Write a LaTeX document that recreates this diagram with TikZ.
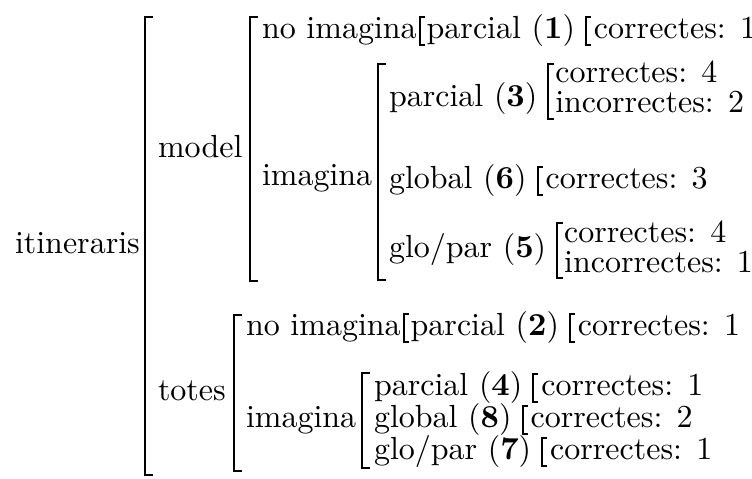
\documentclass[tikz,border=0pt]{standalone}
\usetikzlibrary{calc}
\tikzset{
  txt/.style={anchor=base west,inner sep=0pt,outer sep=0pt,font=\fontsize{10}{12}\selectfont},
  bigbr/.style={line width=0.9pt,line join=miter},
  smbr/.style={line width=0.6pt,line join=miter},
}
\newcommand\onebr[3]{%
  \coordinate (#2t) at ($(#1.base east)+(#3,-21)$);
  \coordinate (#2b) at ($(#1.base east)+(#3,7)$);
  \draw[smbr] (#2t) ++(5,0) -- (#2t) -- (#2b) -- ++(5,0);}
\newcommand\twobr[4]{%
  \coordinate (#2t) at ($(#1.base east)+(11,#3)$);
  \coordinate (#2b) at ($(#1.base east)+(11,#4)$);
  \draw[smbr] (#2t) ++(6,0) -- (#2t) -- (#2b) -- ++(6,0);}
\newcommand\bigbrk[3]{%
  \coordinate (#1t) at #2; \coordinate (#1b) at #3;
  \draw[bigbr] (#1t) ++(8,0) -- (#1t) -- (#1b) -- ++(8,0);}
\begin{document}
\begin{tikzpicture}[x=0.3125pt,y=-0.3125pt]
\useasboundingbox (0,0) rectangle (752,478);
% first level
\node[txt] (itin) at (15,253) {itineraris};
\bigbrk{B0}{(145,17)}{(145,475)}
% model branch
\node[txt] (model) at (158,157) {model};
\bigbrk{B1}{(250,17)}{(250,281)}
\node[txt] (noimA) at (262,38) {no imagina};
\onebr{noimA}{bA}{3}
\node[txt] (p1) at ($(noimA.base east)+(10,0)$) {parcial (\textbf{1})};
\onebr{p1}{bB}{11}
\node[txt] (c1) at ($(p1.base east)+(19,0)$) {correctes: 1};
\node[txt] (imgA) at (262,185) {imagina};
\bigbrk{B2}{(378,64)}{(378,280)}
\node[txt] (p3) at (389,106) {parcial (\textbf{3})};
\twobr{p3}{bC}{-42}{13}
\node[txt] (c4a) at ($(p3.base east)+(18,-24)$) {correctes: 4};
\node[txt] (i2) at ($(p3.base east)+(18,6)$) {incorrectes: 2};
\node[txt] (g6) at (389,188) {global (\textbf{6})};
\onebr{g6}{bD}{11}
\node[txt] (c3) at ($(g6.base east)+(19,0)$) {correctes: 3};
\node[txt] (gp5) at (389,257) {glo/par (\textbf{5})};
\twobr{gp5}{bE}{-34}{21}
\node[txt] (c4b) at ($(gp5.base east)+(18,-15)$) {correctes: 4};
\node[txt] (i1) at ($(gp5.base east)+(18,15)$) {incorrectes: 1};
% totes branch
\node[txt] (totes) at (158,400) {totes};
\bigbrk{B3}{(234,315)}{(234,471)}
\node[txt] (noimB) at (246,335) {no imagina};
\onebr{noimB}{bF}{3}
\node[txt] (p2) at ($(noimB.base east)+(10,0)$) {parcial (\textbf{2})};
\onebr{p2}{bG}{11}
\node[txt] (c1b) at ($(p2.base east)+(19,0)$) {correctes: 1};
\node[txt] (imgB) at (246,427) {imagina};
\bigbrk{B4}{(362,373)}{(362,468)}
\node[txt] (p4) at (374,395) {parcial (\textbf{4})};
\onebr{p4}{bH}{11}
\node[txt] (c1c) at ($(p4.base east)+(19,0)$) {correctes: 1};
\node[txt] (g8) at (374,427) {global (\textbf{8})};
\onebr{g8}{bI}{11}
\node[txt] (c2) at ($(g8.base east)+(19,0)$) {correctes: 2};
\node[txt] (gp7) at (374,459) {glo/par (\textbf{7})};
\onebr{gp7}{bJ}{11}
\node[txt] (c1d) at ($(gp7.base east)+(19,0)$) {correctes: 1};
\end{tikzpicture}
\end{document}
